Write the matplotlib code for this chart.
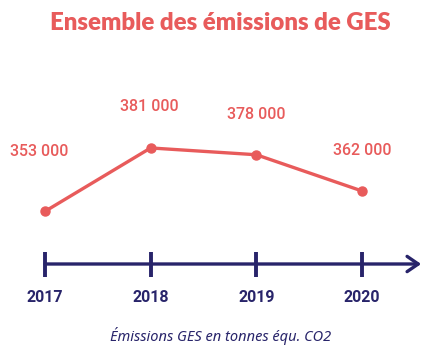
import matplotlib.pyplot as plt

# data
years = [2017, 2018, 2019, 2020]
emissions = [353000, 381000, 378000, 362000]
value_labels = ["353 000", "381 000", "378 000", "362 000"]
year_labels = ["2017", "2018", "2019", "2020"]
title = "Ensemble des émissions de GES"
caption = "Émissions GES en tonnes équ. CO2"

coral = "#E85B5B"
navy = "#28246A"

# label offsets in points (first label sits higher than the others)
offsets = [(-4, 43), (-1, 30), (0, 29), (0, 29)]

fig = plt.figure(figsize=(4.41, 3.6), dpi=100)
ax = fig.add_axes([0, 0, 1, 1])
ax.set_xlim(2016.574, 2020.748)
ax.set_ylim(287340, 446350)
ax.axis("off")

# the line
ax.plot(years, emissions, color=coral, lw=2.4, marker="o", ms=6.5,
        solid_capstyle="round", zorder=3)

for x, v, lab, off in zip(years, emissions, value_labels, offsets):
    ax.annotate(lab, (x, v), xytext=off, textcoords="offset points",
                ha="center", va="center", color=coral, fontsize=11.5,
                fontfamily="Roboto", fontweight="medium")

# the time axis with arrow
tr = ax.get_xaxis_transform()
axis_y = 1 - 264 / 360
ax.annotate("", xy=(2020.56, axis_y), xytext=(2017, axis_y),
            xycoords=tr, textcoords=tr,
            arrowprops=dict(arrowstyle="->,head_length=0.8,head_width=0.55",
                            color=navy, lw=2.4, shrinkA=0, shrinkB=0))
ax.plot(years, [axis_y] * len(years), transform=tr, ls="none",
        marker="|", ms=18, mew=2.8, color=navy)

for x, lab in zip(years, year_labels):
    ax.text(x, 1 - 297 / 360, lab, transform=tr, ha="center", va="center",
            color=navy, fontsize=11.5, fontfamily="Roboto", fontweight="bold")

fig.text(0.5, 1 - 23 / 360, title, ha="center", va="center", color=coral,
         fontsize=17.3, fontfamily="Lato", fontweight="heavy")
fig.text(0.5, 1 - 336 / 360, caption, ha="center", va="center", color=navy,
         fontsize=10.5, fontfamily="Noto Sans", fontstyle="italic")

fig.savefig("out.png", dpi=100)
